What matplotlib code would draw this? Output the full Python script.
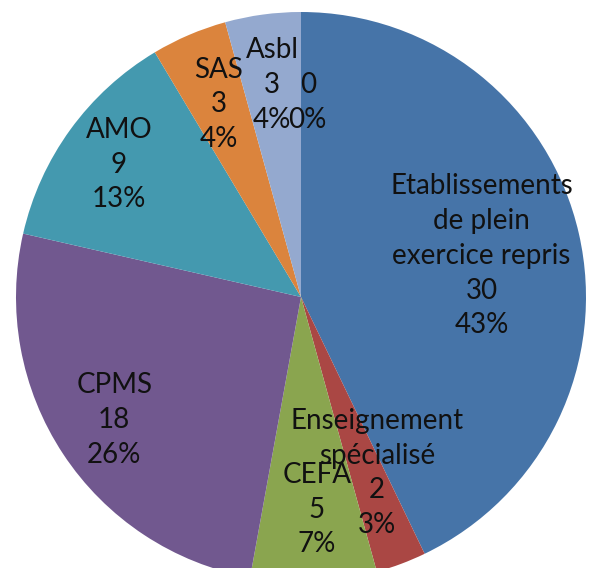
import numpy as np
import matplotlib
matplotlib.use("Agg")
import matplotlib.pyplot as plt

categories = ["Etablissements\nde plein\nexercice repris", "Enseignement\nspécialisé",
              "CEFA", "CPMS", "AMO", "SAS", "Asbl", ""]
values = [30, 2, 5, 18, 9, 3, 3, 0]
colors = ["#4674A8", "#AA4744", "#8AA54F", "#71588F", "#4499AF", "#DB843D", "#94A9CF", "#B9C4DE"]
label_dist = [0.65, 0.673, 0.748, 0.785, 0.79, 0.735, 0.75, 0.683]
label_rot = [0.0, 2.8, 1.7, 0.0, 0.0, 0.0, 0.0, -2.0]

W, H = 591, 568
cx, cy, R = 301, 297, 285

fig = plt.figure(figsize=(W / 100, H / 100), dpi=100)
ax = fig.add_axes([0, 0, 1, 1])

wedges, _ = ax.pie(values, colors=colors, startangle=90, counterclock=False,
                   radius=1.0, center=(0, 0), frame=True,
                   wedgeprops=dict(linewidth=0))
ax.set_xlim(-cx / R, (W - cx) / R)
ax.set_ylim(-(H - cy) / R, cy / R)
ax.set_aspect("equal")
ax.axis("off")

total = sum(values)
for w, name, v, d, r in zip(wedges, categories, values, label_dist, label_rot):
    ang = np.deg2rad((w.theta1 + w.theta2) / 2 + r)
    x, y = d * np.cos(ang), d * np.sin(ang)
    pct = f"{round(100 * v / total)}%"
    txt = (name + "\n" if name else "") + f"{v}\n{pct}"
    ax.text(x, y, txt, ha="center", va="center", fontsize=20, family="Lato",
            color="#111111", linespacing=1.42)

fig.savefig("out.png", dpi=100)
